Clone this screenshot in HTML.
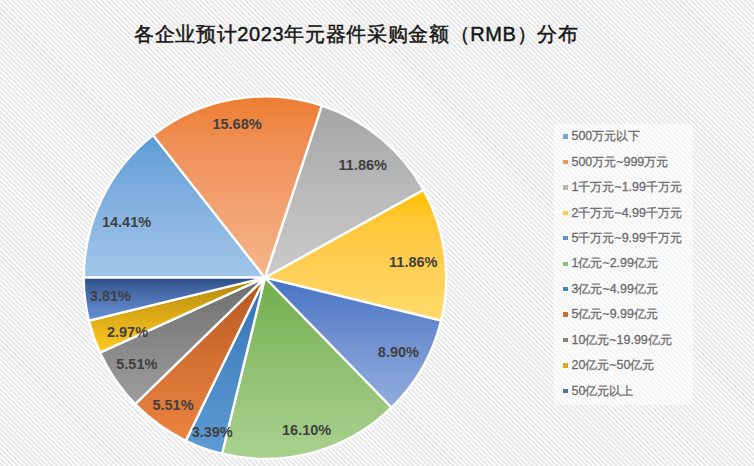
<!DOCTYPE html>
<html><head><meta charset="utf-8"><style>
html,body{margin:0;padding:0;}
body{width:754px;height:466px;position:relative;overflow:hidden;
background:repeating-linear-gradient(45deg,#fefefe 0px,#fefefe 0.6px,#e6e6e6 1.6px,#e6e6e6 2.5px,#fefefe 3.5px);
font-family:"Liberation Sans",sans-serif;}
.title{position:absolute;left:134px;top:21.3px;font-size:20px;letter-spacing:0.65px;-webkit-text-stroke:0.45px #161616;color:#161616;white-space:nowrap;}
.lb{position:absolute;width:80px;text-align:center;font-size:14.5px;font-weight:bold;color:#404040;line-height:17px;}
.lgbox{position:absolute;left:554px;top:124px;width:139px;height:281px;background:rgba(255,255,255,0.5);}
.mk{position:absolute;left:563px;width:4.7px;height:4.4px;}
.lt{position:absolute;left:571.5px;font-size:12.45px;line-height:15px;color:#6c6c6c;-webkit-text-stroke:0.3px #6c6c6c;white-space:nowrap;}
</style></head><body>
<div class="title">各企业预计2023年元器件采购金额（RMB）分布</div>
<svg width="754" height="466" style="position:absolute;left:0;top:0">
<defs><linearGradient id="g0" gradientUnits="userSpaceOnUse" x1="0" y1="135.2" x2="0" y2="277.7"><stop offset="0" stop-color="#5b9bd5"/><stop offset="0.25" stop-color="#72a7da"/><stop offset="0.5" stop-color="#84b2e0"/><stop offset="0.75" stop-color="#94bce5"/><stop offset="1" stop-color="#a2c6ea"/></linearGradient><linearGradient id="g1" gradientUnits="userSpaceOnUse" x1="0" y1="96.5" x2="0" y2="277.7"><stop offset="0" stop-color="#ed7d31"/><stop offset="0.25" stop-color="#ef8e53"/><stop offset="0.5" stop-color="#f19c69"/><stop offset="0.75" stop-color="#f3a97a"/><stop offset="1" stop-color="#f5b589"/></linearGradient><linearGradient id="g2" gradientUnits="userSpaceOnUse" x1="0" y1="105.7" x2="0" y2="277.7"><stop offset="0" stop-color="#a5a5a5"/><stop offset="0.25" stop-color="#afafaf"/><stop offset="0.5" stop-color="#b9b9b9"/><stop offset="0.75" stop-color="#c2c2c2"/><stop offset="1" stop-color="#cbcbcb"/></linearGradient><linearGradient id="g3" gradientUnits="userSpaceOnUse" x1="0" y1="189.9" x2="0" y2="320.7"><stop offset="0" stop-color="#ffc000"/><stop offset="0.25" stop-color="#ffc738"/><stop offset="0.5" stop-color="#ffcd4d"/><stop offset="0.75" stop-color="#ffd45d"/><stop offset="1" stop-color="#ffda6a"/></linearGradient><linearGradient id="g4" gradientUnits="userSpaceOnUse" x1="0" y1="277.7" x2="0" y2="407.5"><stop offset="0" stop-color="#4472c4"/><stop offset="0.25" stop-color="#5e83cb"/><stop offset="0.5" stop-color="#7292d1"/><stop offset="0.75" stop-color="#82a0d7"/><stop offset="1" stop-color="#90acdd"/></linearGradient><linearGradient id="g5" gradientUnits="userSpaceOnUse" x1="0" y1="277.7" x2="0" y2="458.9"><stop offset="0" stop-color="#70ad47"/><stop offset="0.25" stop-color="#81b75f"/><stop offset="0.5" stop-color="#90c071"/><stop offset="0.75" stop-color="#9dc981"/><stop offset="1" stop-color="#a9d18e"/></linearGradient><linearGradient id="g6" gradientUnits="userSpaceOnUse" x1="0" y1="277.7" x2="0" y2="453.7"><stop offset="0" stop-color="#3070b4"/><stop offset="0.25" stop-color="#3f7cbd"/><stop offset="0.5" stop-color="#4a88c6"/><stop offset="0.75" stop-color="#5492ce"/><stop offset="1" stop-color="#5c9bd6"/></linearGradient><linearGradient id="g7" gradientUnits="userSpaceOnUse" x1="0" y1="277.7" x2="0" y2="440.7"><stop offset="0" stop-color="#b5561c"/><stop offset="0.25" stop-color="#c56429"/><stop offset="0.5" stop-color="#d37032"/><stop offset="0.75" stop-color="#e07a3a"/><stop offset="1" stop-color="#ec8440"/></linearGradient><linearGradient id="g8" gradientUnits="userSpaceOnUse" x1="0" y1="277.7" x2="0" y2="404.1"><stop offset="0" stop-color="#6c6c6c"/><stop offset="0.25" stop-color="#7a7a7a"/><stop offset="0.5" stop-color="#878787"/><stop offset="0.75" stop-color="#929292"/><stop offset="1" stop-color="#9c9c9c"/></linearGradient><linearGradient id="g9" gradientUnits="userSpaceOnUse" x1="0" y1="277.7" x2="0" y2="352.6"><stop offset="0" stop-color="#b08300"/><stop offset="0.25" stop-color="#c79811"/><stop offset="0.5" stop-color="#dcaa17"/><stop offset="0.75" stop-color="#eeba1b"/><stop offset="1" stop-color="#ffc81f"/></linearGradient><linearGradient id="g10" gradientUnits="userSpaceOnUse" x1="0" y1="277.7" x2="0" y2="320.7"><stop offset="0" stop-color="#2b4c86"/><stop offset="0.25" stop-color="#40639f"/><stop offset="0.5" stop-color="#4f74b3"/><stop offset="0.75" stop-color="#5b83c6"/><stop offset="1" stop-color="#6690d6"/></linearGradient></defs>
<g stroke="#fff" stroke-width="2.3" stroke-linejoin="round"><path d="M265.00,277.70L83.80,277.70A181.2,181.2 0 0 1 153.13,135.15Z" fill="url(#g0)"/><path d="M265.00,277.70L153.13,135.15A181.2,181.2 0 0 1 321.97,105.69Z" fill="url(#g1)"/><path d="M265.00,277.70L321.97,105.69A181.2,181.2 0 0 1 423.51,189.91Z" fill="url(#g2)"/><path d="M265.00,277.70L423.51,189.91A181.2,181.2 0 0 1 441.03,320.66Z" fill="url(#g3)"/><path d="M265.00,277.70L441.03,320.66A181.2,181.2 0 0 1 391.43,407.51Z" fill="url(#g4)"/><path d="M265.00,277.70L391.43,407.51A181.2,181.2 0 0 1 222.04,453.73Z" fill="url(#g5)"/><path d="M265.00,277.70L222.04,453.73A181.2,181.2 0 0 1 185.79,440.67Z" fill="url(#g6)"/><path d="M265.00,277.70L185.79,440.67A181.2,181.2 0 0 1 135.19,404.13Z" fill="url(#g7)"/><path d="M265.00,277.70L135.19,404.13A181.2,181.2 0 0 1 99.99,352.58Z" fill="url(#g8)"/><path d="M265.00,277.70L99.99,352.58A181.2,181.2 0 0 1 88.97,320.66Z" fill="url(#g9)"/><path d="M265.00,277.70L88.97,320.66A181.2,181.2 0 0 1 83.80,277.70Z" fill="url(#g10)"/></g>
</svg>
<div class="lb" style="left:86.5px;top:214.3px">14.41%</div><div class="lb" style="left:197.0px;top:116.0px">15.68%</div><div class="lb" style="left:322.8px;top:156.8px">11.86%</div><div class="lb" style="left:373.3px;top:254.1px">11.86%</div><div class="lb" style="left:358.4px;top:344.3px">8.90%</div><div class="lb" style="left:266.6px;top:422.3px">16.10%</div><div class="lb" style="left:172.2px;top:423.5px">3.39%</div><div class="lb" style="left:133.0px;top:397.0px">5.51%</div><div class="lb" style="left:96.8px;top:356.3px">5.51%</div><div class="lb" style="left:87.5px;top:323.9px">2.97%</div><div class="lb" style="left:70.4px;top:287.6px">3.81%</div>
<div class="lgbox"></div>
<div class="mk" style="top:134.4px;background:#70A8DC"></div><div class="lt" style="top:129.2px">500万元以下</div><div class="mk" style="top:159.8px;background:#F0985A"></div><div class="lt" style="top:154.6px">500万元~999万元</div><div class="mk" style="top:185.3px;background:#B5B5B5"></div><div class="lt" style="top:180.1px">1千万元~1.99千万元</div><div class="mk" style="top:210.7px;background:#FFCB3A"></div><div class="lt" style="top:205.5px">2千万元~4.99千万元</div><div class="mk" style="top:236.1px;background:#6A8FD0"></div><div class="lt" style="top:230.9px">5千万元~9.99千万元</div><div class="mk" style="top:261.5px;background:#8CC06A"></div><div class="lt" style="top:256.3px">1亿元~2.99亿元</div><div class="mk" style="top:287.0px;background:#4283C4"></div><div class="lt" style="top:281.8px">3亿元~4.99亿元</div><div class="mk" style="top:312.4px;background:#D06E30"></div><div class="lt" style="top:307.2px">5亿元~9.99亿元</div><div class="mk" style="top:337.8px;background:#838383"></div><div class="lt" style="top:332.6px">10亿元~19.99亿元</div><div class="mk" style="top:363.3px;background:#DDA812"></div><div class="lt" style="top:358.1px">20亿元~50亿元</div><div class="mk" style="top:388.7px;background:#4A70B8"></div><div class="lt" style="top:383.5px">50亿元以上</div>
</body></html>
